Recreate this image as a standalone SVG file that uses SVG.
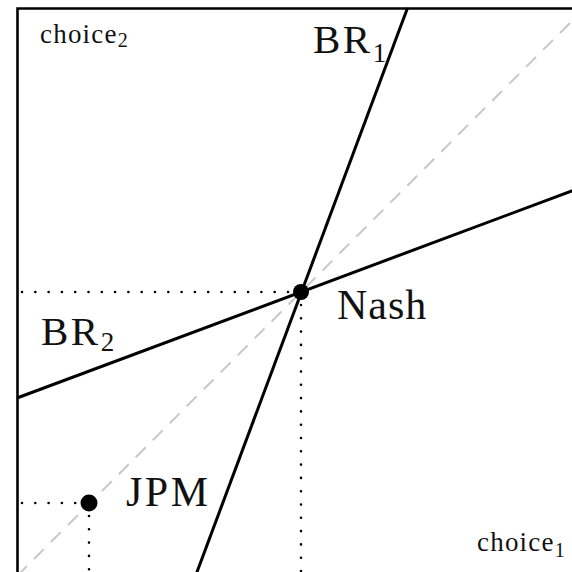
<svg xmlns="http://www.w3.org/2000/svg" width="572" height="572" viewBox="0 0 572 572">
<style>
.t{font-family:"Liberation Serif","DejaVu Serif",serif;fill:#111}
.br{stroke:#000;stroke-width:3;fill:none}
.dot{stroke:#000;stroke-width:2.6;stroke-linecap:round;stroke-dasharray:0 13.3;fill:none}
</style>
<rect width="572" height="572" fill="#fff"/>
<g id="axes">
<path d="M17.5 572 V8.5 H572" stroke="#000" stroke-width="2.6" fill="none"/>
</g>
<g id="connectors">
<line x1="17" y1="576" x2="585" y2="8" stroke="#c8c8c8" stroke-width="2" stroke-dasharray="14 10"/>
<line class="dot" x1="22" y1="292" x2="295" y2="292"/>
<line class="dot" x1="301" y1="305" x2="301" y2="572"/>
<line class="dot" x1="22" y1="503" x2="80" y2="503"/>
<line class="dot" x1="89" y1="516" x2="89" y2="572"/>
<line class="br" x1="407.5" y1="8" x2="195.5" y2="576"/>
<line class="br" x1="17" y1="398" x2="585" y2="186"/>
</g>
<g id="nash">
<circle cx="301" cy="292" r="8"/>
<text class="t" x="337" y="319" font-size="42" letter-spacing="1">Nash</text>
</g>
<g id="jpm">
<circle cx="89" cy="503" r="8.5"/>
<text class="t" x="126" y="506" font-size="42" letter-spacing="2.5">JPM</text>
</g>
<g id="br1">
<text class="t" x="313" y="53" font-size="41" letter-spacing="2.5">BR<tspan font-size="27" dy="9" letter-spacing="0">1</tspan></text>
</g>
<g id="br2">
<text class="t" x="41" y="345" font-size="41" letter-spacing="2.5">BR<tspan font-size="27" dy="6" letter-spacing="0">2</tspan></text>
</g>
<g id="choice2">
<text class="t" x="40" y="43" font-size="27" letter-spacing="1.2">choice<tspan font-size="20" dy="4" letter-spacing="0">2</tspan></text>
</g>
<g id="choice1">
<text class="t" x="477" y="551" font-size="27" letter-spacing="1.2">choice<tspan font-size="20" dy="6" letter-spacing="0">1</tspan></text>
</g>
</svg>
